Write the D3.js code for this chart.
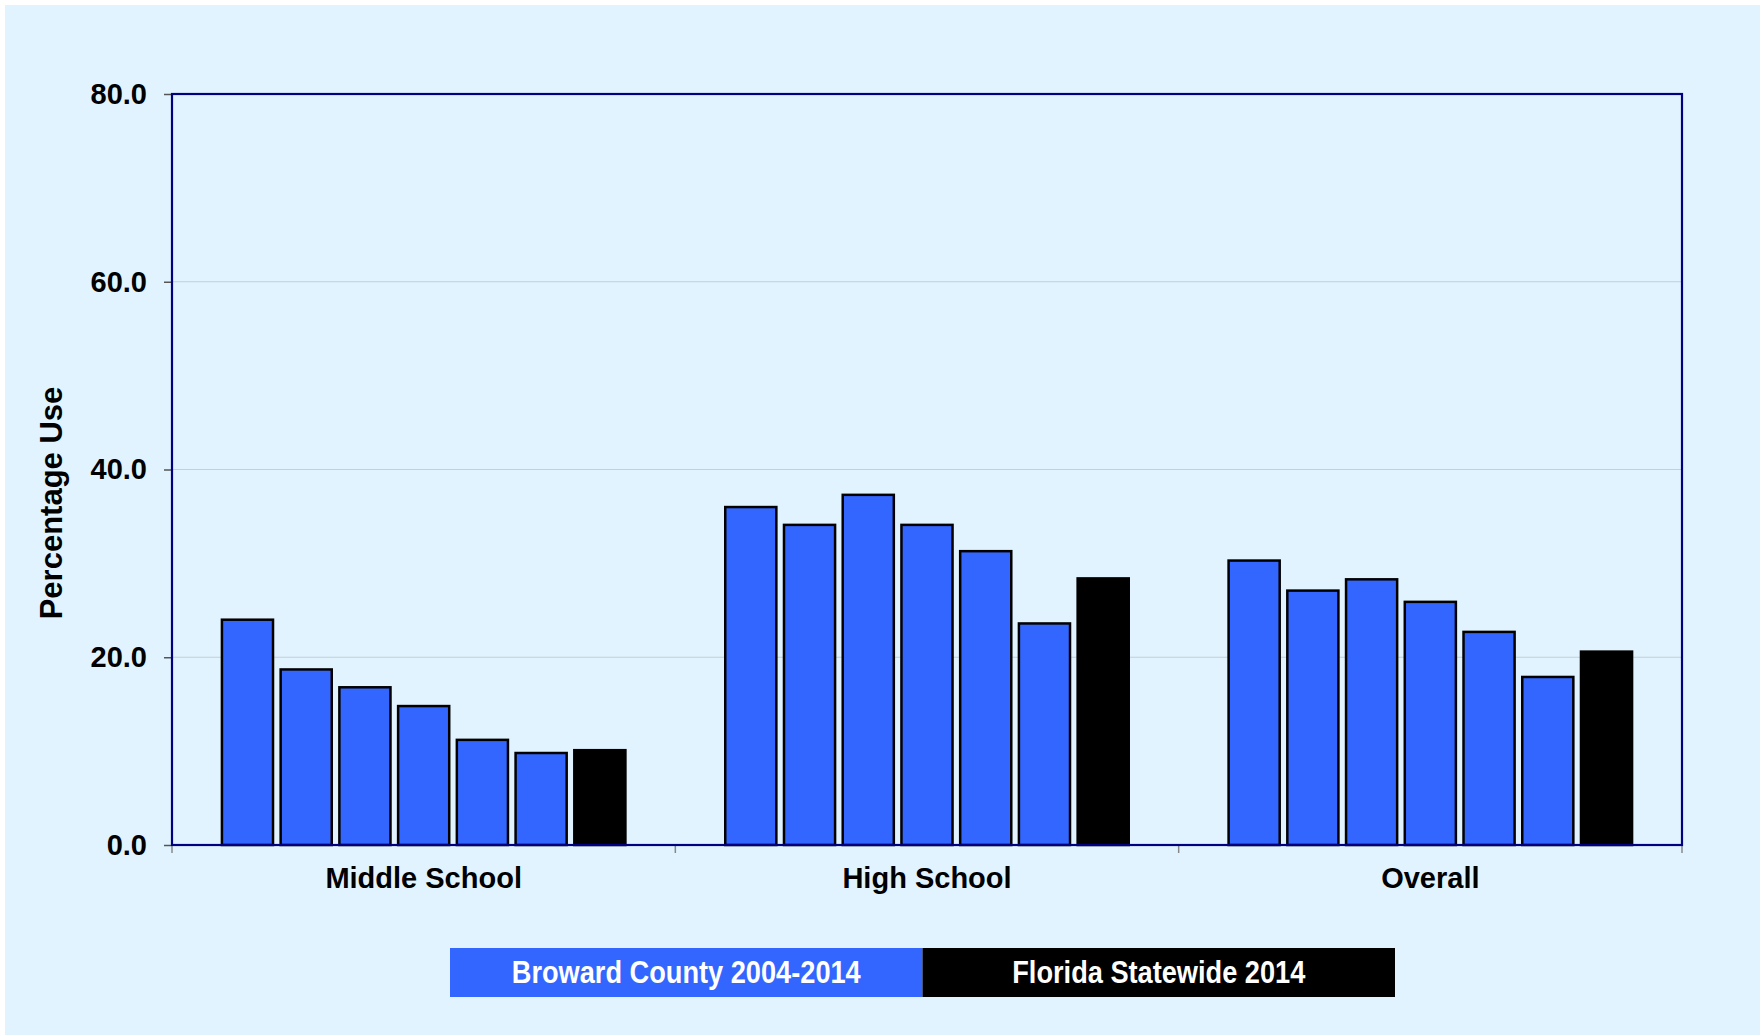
<!DOCTYPE html>
<html><head><meta charset="utf-8">
<script src="https://cdn.jsdelivr.net/npm/d3@7/dist/d3.min.js"></script>
<style>html,body{margin:0;padding:0;background:#fff;}svg{display:block;}</style>
</head><body>
<svg id="chart" width="1760" height="1035"></svg>
<script>
const categories = ["Middle School", "High School", "Overall"];
const seriesNames = ["Broward 2004", "Broward 2006", "Broward 2008", "Broward 2010", "Broward 2012", "Broward 2014", "Florida Statewide 2014"];
const middleSchool = [24.0, 18.7, 16.8, 14.8, 11.2, 9.8, 10.1];
const highSchool = [36.0, 34.1, 37.3, 34.1, 31.3, 23.6, 28.4];
const overall = [30.3, 27.1, 28.3, 25.9, 22.7, 17.9, 20.6];
const yTicks = [0, 20, 40, 60, 80];
const legendLabels = ["Broward County 2004-2014", "Florida Statewide 2014"];
const legendColors = ["#3366FF", "#000000"];
const seriesColors = ["#3366FF", "#3366FF", "#3366FF", "#3366FF", "#3366FF", "#3366FF", "#000000"];

const values = [middleSchool, highSchool, overall];
const svg = d3.select("#chart");
const W = 1760, H = 1035;
const m = {left: 172, top: 94, right: 1682, bottom: 845};
const font = "'Liberation Sans', Arial, sans-serif";

svg.append("rect").attr("x", 5).attr("y", 5).attr("width", W - 5).attr("height", H - 5).attr("fill", "#E0F3FF");

const x0 = d3.scaleBand().domain(categories).range([m.left, m.right]).padding(0);
const x1 = d3.scaleBand().domain(seriesNames).range([0, x0.bandwidth()]).paddingInner(0.13).paddingOuter(0.85);
const y = d3.scaleLinear().domain([0, 80]).range([m.bottom, m.top]);

// gridlines
svg.append("g").selectAll("line").data(yTicks.filter(d => d > 0 && d < 80)).join("line")
  .attr("x1", m.left).attr("x2", m.right)
  .attr("y1", d => y(d)).attr("y2", d => y(d))
  .attr("stroke", "#C6CFD6").attr("stroke-width", 1.2);

// y axis
const yAxis = d3.axisLeft(y).tickValues(yTicks).tickFormat(d3.format(".1f")).tickSize(8).tickPadding(17);
const gy = svg.append("g").attr("transform", `translate(${m.left},0)`).call(yAxis);
gy.select(".domain").remove();
gy.selectAll(".tick line").attr("stroke", "#555").attr("stroke-width", 1.5);
gy.selectAll(".tick text").attr("font-family", font).attr("font-weight", "bold").attr("font-size", 29).attr("fill", "#000");

// x axis ticks at boundaries
const bounds = categories.map(c => x0(c)).concat([m.right]);
svg.append("g").selectAll("line").data(bounds).join("line")
  .attr("x1", d => d).attr("x2", d => d).attr("y1", m.bottom).attr("y2", m.bottom + 8)
  .attr("stroke", "#888").attr("stroke-width", 1.5);

// x category labels via axis
const xAxis = d3.axisBottom(x0).tickSize(0).tickPadding(22);
const gx = svg.append("g").attr("transform", `translate(0,${m.bottom})`).call(xAxis);
gx.select(".domain").remove();
gx.selectAll(".tick text").attr("font-family", font).attr("font-weight", "bold").attr("font-size", 29).attr("fill", "#000");

// bars
const groups = svg.append("g").selectAll("g").data(categories).join("g")
  .attr("transform", d => `translate(${x0(d)},0)`);
groups.selectAll("rect").data((c, i) => values[i].map((v, j) => ({s: seriesNames[j], v, j}))).join("rect")
  .attr("x", d => x1(d.s)).attr("width", x1.bandwidth())
  .attr("y", d => y(d.v)).attr("height", d => y(0) - y(d.v))
  .attr("fill", d => seriesColors[d.j]).attr("stroke", "#000").attr("stroke-width", 2.5);

// frame
svg.append("rect").attr("x", m.left).attr("y", m.top).attr("width", m.right - m.left).attr("height", m.bottom - m.top)
  .attr("fill", "none").attr("stroke", "#000080").attr("stroke-width", 2.2);

// y title
svg.append("text").attr("transform", "translate(62,503) rotate(-90)")
  .attr("text-anchor", "middle").attr("font-family", font).attr("font-weight", "bold").attr("font-size", 31)
  .attr("fill", "#000").text("Percentage Use");

// legend
const legendTextLen = [349, 293];
const lx = d3.scaleBand().domain(legendLabels).range([450, 1395]);
const lg = svg.append("g").selectAll("g").data(legendLabels).join("g");
lg.append("rect").attr("x", d => lx(d)).attr("y", 948).attr("width", lx.bandwidth()).attr("height", 49)
  .attr("fill", (d, i) => legendColors[i]);
lg.append("text").attr("x", d => lx(d) + lx.bandwidth() / 2).attr("y", 983)
  .attr("text-anchor", "middle").attr("font-family", font)
  .attr("textLength", (d, i) => legendTextLen[i]).attr("lengthAdjust", "spacingAndGlyphs")
  .attr("font-weight", "bold").attr("font-size", 31).attr("fill", "#fff").text(d => d);
</script>
</body></html>
